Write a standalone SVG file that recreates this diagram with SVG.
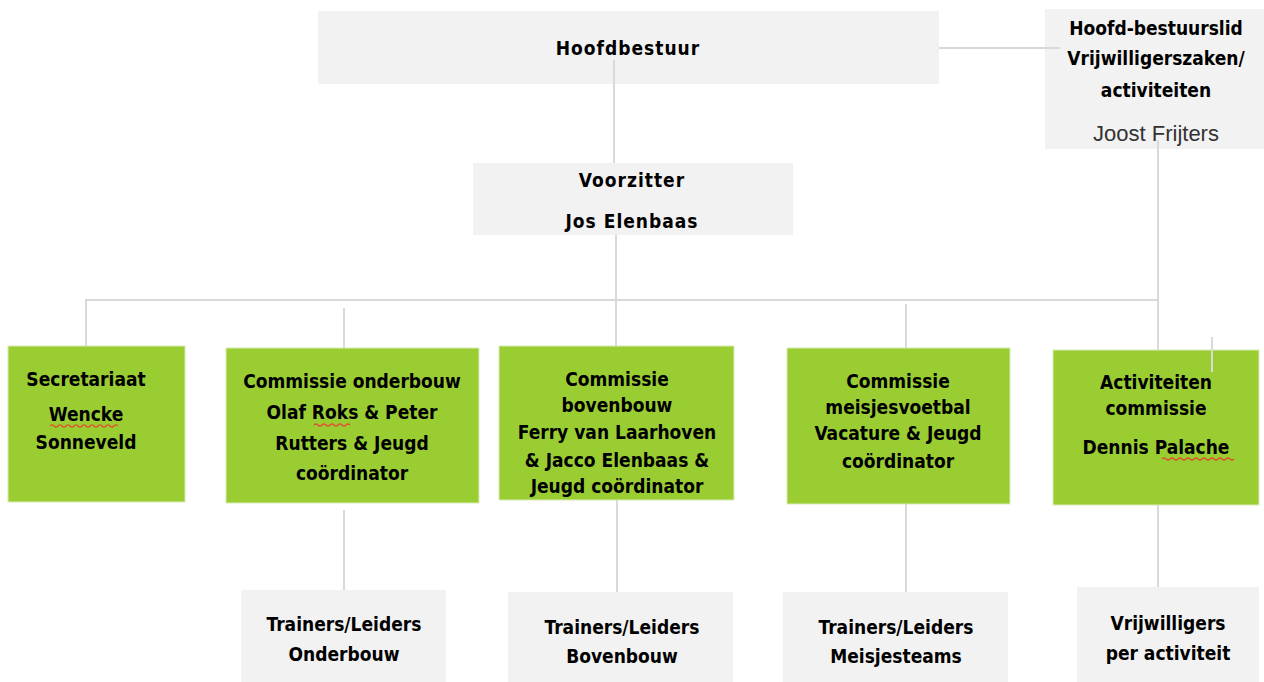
<svg xmlns="http://www.w3.org/2000/svg" width="1264" height="682" viewBox="0 0 1264 682">
<style>
.gray{fill:#f2f2f2}
.green{fill:#9acd32;stroke:#d9ecb8;stroke-width:1}
.ln{stroke:#d9d9d9;stroke-width:2;fill:none}
text{font-family:"DejaVu Sans Condensed","DejaVu Sans",sans-serif;font-weight:bold;font-size:19px;fill:#000;text-anchor:middle;dominant-baseline:central}
.reg{font-family:"Liberation Sans",Arial,sans-serif;font-weight:normal;font-size:22px;fill:#333}
.sq{stroke:#e05030;stroke-width:1.2;fill:none}
</style>
<rect width="1264" height="682" fill="#fff"/>
<g id="hoofdbestuur">
<rect class="gray" x="318" y="11" width="621" height="73"/>
<text x="628" y="48" letter-spacing="1">Hoofdbestuur</text>
</g>
<g id="hoofdbestuurslid">
<rect class="gray" x="1045" y="9" width="219" height="140"/>
<text x="1156" y="28">Hoofd-bestuurslid</text>
<text x="1156" y="58">Vrijwilligerszaken/</text>
<text x="1156" y="90">activiteiten</text>
<text class="reg" x="1156" y="133">Joost Frijters</text>
</g>
<g id="voorzitter">
<rect class="gray" x="473" y="163" width="320" height="72"/>
<text x="632" y="180" letter-spacing="1">Voorzitter</text>
<text x="632" y="221" letter-spacing="1">Jos Elenbaas</text>
</g>
<g id="secretariaat">
<rect class="green" x="8" y="346" width="177" height="156"/>
<text x="86" y="379">Secretariaat</text>
<text x="86" y="414">Wencke</text>
<path class="sq" d="M50 426q2-2 4 0t4 0t4 0t4 0t4 0t4 0t4 0t4 0t4 0t4 0t4 0t4 0t4 0t4 0t4 0t4 0t4 0"/>
<text x="86" y="442">Sonneveld</text>
</g>
<g id="commissie-onderbouw">
<rect class="green" x="226" y="348" width="253" height="155"/>
<text x="352" y="381">Commissie onderbouw</text>
<text x="352" y="412">Olaf Roks &amp; Peter</text>
<path class="sq" d="M314 425q2-2 4 0t4 0t4 0t4 0t4 0t4 0t4 0t4 0t4 0"/>
<text x="352" y="443">Rutters &amp; Jeugd</text>
<text x="352" y="473">coördinator</text>
</g>
<g id="commissie-bovenbouw">
<rect class="green" x="499" y="346" width="235" height="154"/>
<text x="617" y="379">Commissie</text>
<text x="617" y="405">bovenbouw</text>
<text x="617" y="432">Ferry van Laarhoven</text>
<text x="617" y="460">&amp; Jacco Elenbaas &amp;</text>
<text x="617" y="486">Jeugd coördinator</text>
</g>
<g id="commissie-meisjesvoetbal">
<rect class="green" x="787" y="348" width="223" height="156"/>
<text x="898" y="381">Commissie</text>
<text x="898" y="407">meisjesvoetbal</text>
<text x="898" y="433">Vacature &amp; Jeugd</text>
<text x="898" y="461">coördinator</text>
</g>
<g id="activiteiten-commissie">
<rect class="green" x="1053" y="350" width="206" height="155"/>
<text x="1156" y="382">Activiteiten</text>
<text x="1156" y="408">commissie</text>
<text x="1156" y="447">Dennis Palache</text>
<path class="sq" d="M1162 459q2-2 4 0t4 0t4 0t4 0t4 0t4 0t4 0t4 0t4 0t4 0t4 0t4 0t4 0t4 0t4 0t4 0t4 0t4 0"/>
</g>
<g id="trainers-onderbouw">
<rect class="gray" x="241" y="590" width="205" height="92"/>
<text x="344" y="624">Trainers/Leiders</text>
<text x="344" y="654">Onderbouw</text>
</g>
<g id="trainers-bovenbouw">
<rect class="gray" x="508" y="592" width="225" height="90"/>
<text x="622" y="627">Trainers/Leiders</text>
<text x="622" y="656">Bovenbouw</text>
</g>
<g id="trainers-meisjesteams">
<rect class="gray" x="783" y="592" width="225" height="90"/>
<text x="896" y="627">Trainers/Leiders</text>
<text x="896" y="656">Meisjesteams</text>
</g>
<g id="vrijwilligers">
<rect class="gray" x="1077" y="587" width="182" height="95"/>
<text x="1168" y="623">Vrijwilligers</text>
<text x="1168" y="653">per activiteit</text>
</g>
<g id="connectors">
<path class="ln" d="M939 48H1060"/>
<path class="ln" d="M614 60V163"/>
<path class="ln" d="M616 235V346"/>
<path class="ln" d="M1158 140V350"/>
<path class="ln" d="M86 346V300H1158"/>
<path class="ln" d="M344 308V348"/>
<path class="ln" d="M906 304V348"/>
<path class="ln" d="M1212 337V372"/>
<path class="ln" d="M344 510V590"/>
<path class="ln" d="M617 500V592"/>
<path class="ln" d="M906 504V592"/>
<path class="ln" d="M1158 505V587"/>
</g>
</svg>
